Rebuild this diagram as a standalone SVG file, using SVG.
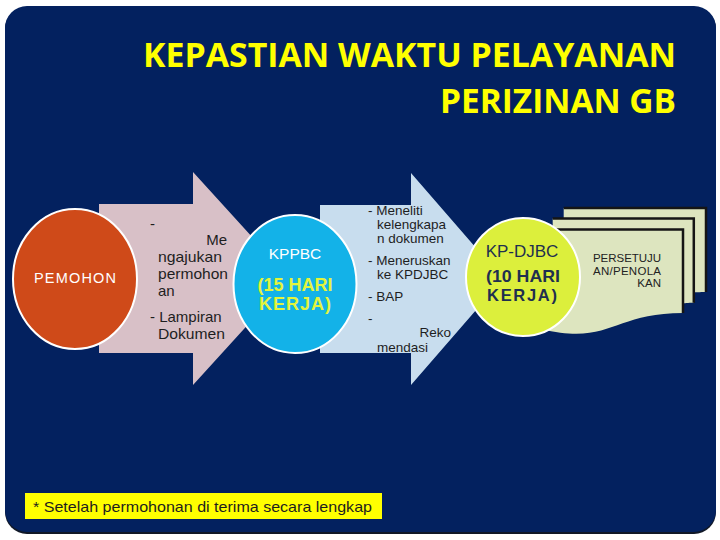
<svg xmlns="http://www.w3.org/2000/svg" width="720" height="540" viewBox="0 0 720 540">
<style>
.t{font-family:"Liberation Sans",Arial,sans-serif}
.title{font-family:"Open Sans","Liberation Sans",sans-serif;font-weight:bold;font-size:34px;fill:#ffff00}
.circ{stroke:#ffffff;stroke-width:2}
.sheet{fill:#dde5bf}
.edge{fill:none;stroke:#151515;stroke-width:2.5}
</style>
<rect x="0" y="0" width="720" height="540" fill="#ffffff"/>
<rect x="5" y="7" width="711" height="527" rx="22" fill="#111827"/>
<rect x="5" y="6" width="711" height="526" rx="22" fill="#03215f"/>
<g id="title">
<text class="title" x="676" y="67" text-anchor="end" textLength="533" lengthAdjust="spacingAndGlyphs">KEPASTIAN WAKTU PELAYANAN</text>
<text class="title" x="676" y="113" text-anchor="end" textLength="236" lengthAdjust="spacingAndGlyphs">PERIZINAN GB</text>
</g>
<g id="connectors">
<path id="arrow1" d="M99,204 L193,204 L193,172 L290,278.5 L193,385 L193,353 L99,353 Z" fill="#d8c0c7"/>
<path id="arrow2" d="M320,205 L411,205 L411,173 L503,279 L411,385 L411,353 L320,353 Z" fill="#c8ddee"/>
</g>
<g id="arrow1-text" class="t" font-size="15" fill="#1e1e1e">
<text x="150" y="229">-</text>
<text x="227" y="245" text-anchor="end">Me</text>
<text x="158" y="262" textLength="64" lengthAdjust="spacingAndGlyphs">ngajukan</text>
<text x="158" y="279" textLength="70" lengthAdjust="spacingAndGlyphs">permohon</text>
<text x="158" y="296">an</text>
<text x="150" y="322">- <tspan>Lampiran</tspan></text>
<text x="158" y="339" textLength="67" lengthAdjust="spacingAndGlyphs">Dokumen</text>
</g>
<g id="arrow2-text" class="t" font-size="13.5" fill="#1e1e1e">
<text x="368" y="215">- Meneliti</text>
<text x="377" y="229">kelengkapa</text>
<text x="377" y="243">n dokumen</text>
<text x="368" y="265">- Meneruskan</text>
<text x="377" y="279">ke KPDJBC</text>
<text x="368" y="301">- BAP</text>
<text x="368" y="323">-</text>
<text x="451" y="337" text-anchor="end">Reko</text>
<text x="377" y="352">mendasi</text>
</g>
<g id="pemohon">
<ellipse class="circ" cx="75" cy="279" rx="62" ry="70" fill="#cf4a19"/>
<text class="t" x="75" y="283" text-anchor="middle" font-size="14.5" fill="#ffffff" textLength="82" lengthAdjust="spacing">PEMOHON</text>
</g>
<g id="kppbc">
<ellipse class="circ" cx="295" cy="284" rx="61.5" ry="69" fill="#13b2e8"/>
<text class="t" x="295" y="259" text-anchor="middle" font-size="15.5" fill="#ffffff">KPPBC</text>
<text class="t" x="295" y="291" text-anchor="middle" font-size="18" font-weight="bold" fill="#e3f43c">(15 HARI</text>
<text class="t" x="295" y="310" text-anchor="middle" font-size="18" font-weight="bold" fill="#e3f43c" textLength="72" lengthAdjust="spacing">KERJA)</text>
</g>
<g id="document">
<path class="sheet" d="M563.7,218.6 L563.7,208 L706,208 L706,292 C700,292 693.8,292.4 693.8,292.4 L693.8,218.6 Z"/>
<polyline class="edge" points="563.7,208 706,208 706,292"/>
<path class="sheet" d="M552.7,229.4 L552.7,218.6 L693.8,218.6 L693.8,302.8 C688.4,302.8 683,303.4 683,303.4 L683,229.4 Z"/>
<polyline class="edge" points="552.7,218.6 693.8,218.6 693.8,302.8"/>
<path class="sheet" d="M541,329.2 C612,345.3 612,313.1 683,313.1 L683,229.4 L541,229.4 Z"/>
<polyline class="edge" points="541,229.4 683,229.4 683,313.1"/>
<g class="t" font-size="11.5" fill="#222222" text-anchor="end">
<text x="661" y="262" textLength="68" lengthAdjust="spacing">PERSETUJU</text>
<text x="661" y="274.5" textLength="68" lengthAdjust="spacing">AN/PENOLA</text>
<text x="661" y="287">KAN</text>
</g>
</g>
<g id="kpdjbc">
<ellipse class="circ" cx="523" cy="277" rx="57" ry="59" fill="#dcef3c"/>
<text class="t" x="522" y="257" text-anchor="middle" font-size="17" fill="#1f2f4f">KP-DJBC</text>
<text class="t" x="523" y="281.5" text-anchor="middle" font-size="16.5" font-weight="bold" fill="#1f2f4f" textLength="74" lengthAdjust="spacingAndGlyphs">(10 HARI</text>
<text class="t" x="522" y="300.5" text-anchor="middle" font-size="16.5" font-weight="bold" fill="#1f2f4f" textLength="70" lengthAdjust="spacing">KERJA)</text>
</g>
<g id="footnote">
<rect x="25" y="493" width="357" height="26" fill="#ffff00"/>
<text class="t" x="33" y="512" font-size="15" fill="#1e1e1e" textLength="339" lengthAdjust="spacingAndGlyphs">* Setelah permohonan di terima secara lengkap</text>
</g>
</svg>
